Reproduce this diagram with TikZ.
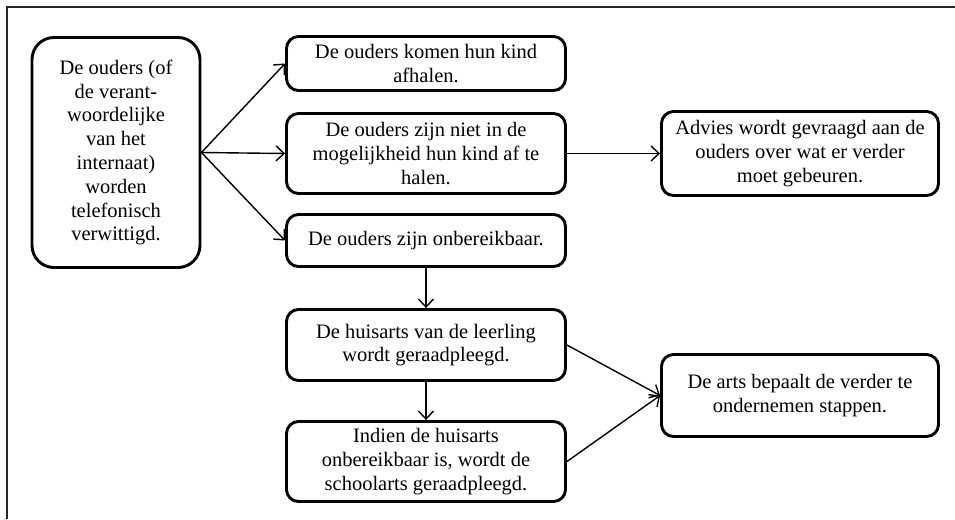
\documentclass[tikz,border=0pt]{standalone}
\usepackage{fontspec}
\setmainfont{Liberation Serif}
\usetikzlibrary{arrows.meta}
\begin{document}
\begin{tikzpicture}[x=1pt,y=-1pt,
  box/.style={draw, line width=2.9pt, rounded corners=12pt, align=center, inner sep=2pt,
    font=\fontsize{20.5}{23.8}\selectfont, minimum width=279pt},
  bigbox/.style={box, rounded corners=22pt, minimum width=168pt, minimum height=230pt},
  arr/.style={line width=1.4pt, -{Straight Barb[length=8pt,width=15pt,line width=1.4pt]}},
  frameline/.style={line width=1.8pt, black!85}]
\useasboundingbox (0,0) rectangle (955,519);
\coordinate (fTL) at (7,7);
\coordinate (fTR) at (955,7);
\coordinate (fBL) at (7,519);
\draw[frameline] (fTR) -- (fTL) -- (fBL);

\node[bigbox] (A) at (116,152.5) {De ouders (of\\de verant-\\woordelijke\\van het\\internaat)\\worden\\telefonisch\\verwittigd.};
\node[box, minimum height=54pt] (B1) at (426,63.5) {De ouders komen hun kind\\afhalen.};
\node[box, minimum height=80pt] (B2) at (426,153.5) {De ouders zijn niet in de\\mogelijkheid hun kind af te\\halen.};
\node[box, minimum height=52pt] (B3) at (426,240.5) {De ouders zijn onbereikbaar.};
\node[box, minimum width=277pt, minimum height=84pt] (C) at (800,153.5) {Advies wordt gevraagd aan de\\ouders over wat er verder\\moet gebeuren.};
\node[box, minimum height=71pt] (D) at (426,345) {De huisarts van de leerling\\wordt geraadpleegd.};
\node[box, minimum height=80pt] (E) at (426,461.5) {Indien de huisarts\\onbereikbaar is, wordt de\\schoolarts geraadpleegd.};
\node[box, minimum width=277pt, minimum height=82pt] (F) at (800,395.5) {De arts bepaalt de verder te\\ondernemen stappen.};

\draw[arr] (A.east) -- (B1.west);
\draw[arr] (A.east) -- (B2.west);
\draw[arr] (A.east) -- (B3.west);
\draw[arr] (B2.east) -- (C.west);
\draw[arr] (B3.south) -- (D.north);
\draw[arr] (D.south) -- (E.north);
\draw[arr] (D.east) -- (F.west);
\draw[arr] (E.east) -- (F.west);
\end{tikzpicture}
\end{document}
